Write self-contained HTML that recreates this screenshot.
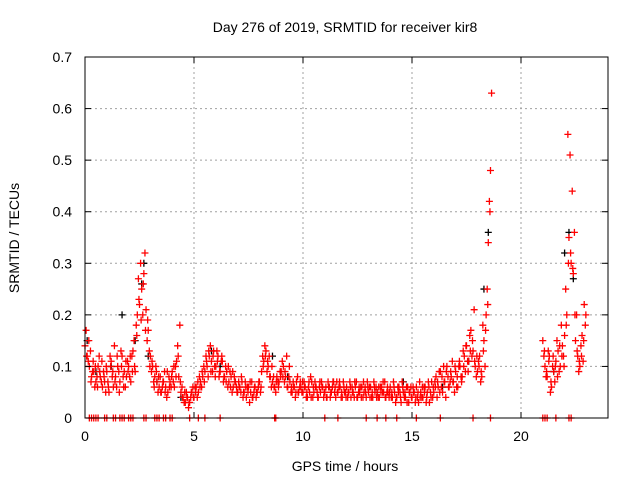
<!DOCTYPE html>
<html><head><meta charset="utf-8"><style>
body{margin:0;background:#fff}
svg text{font-family:"Liberation Sans",sans-serif;font-size:14px;fill:#000}
</style></head><body>
<svg id="c" width="640" height="480" viewBox="0 0 640 480" xmlns="http://www.w3.org/2000/svg">
<rect width="640" height="480" fill="#fff"/>
<text x="345" y="32" text-anchor="middle">Day 276 of 2019, SRMTID for receiver kir8</text>
<text x="345" y="471" text-anchor="middle">GPS time / hours</text>
<text transform="translate(19,238) rotate(-90)" text-anchor="middle">SRMTID / TECUs</text>
<g id="grid"></g><g id="marks"></g><g id="axes"></g>
</svg>
<script>
const xTicks=[0,5,10,15,20];
const yTicks=[0,0.1,0.2,0.3,0.4,0.5,0.6,0.7];
const yTickLabels=["0","0.1","0.2","0.3","0.4","0.5","0.6","0.7"];
const redA=[.14,.12,.10,.08,.09,.07,.10,.08,.06,.07,.09,.05,.11,.06,.08,.10,.07,.12,.09,.08,.10,.07,.13,.09,.20,.22,.25,.28,.21,.17,.12,.10,.08,.07,.06,.05,.07,.06,.05,.07,.09,.06,.11,.08,.05,.04,.03,.04,.03,.05,.04,.06,.05,.07,.08,.09,.10,.12,.11,.13,.10,.12,.09,.11,.08,.09,.07,.08,.06,.07,.05,.06,.07,.05,.04,.06,.05,.04,.06,.05,.07,.09,.11,.13,.10,.08,.07,.06,.08,.07,.09,.10,.08,.06,.07,.05,.06,.07,.05,.06,.05,.06,.04,.05,.07,.05,.06,.04,.05,.06,.05,.04,.06,.05,.07,.04,.05,.06,.04,.05,.06,.05,.04,.05,.06,.04,.05,.06,.05,.04,.05,.06,.04,.05,.05,.04,.06,.05,.04,.05,.06,.04,.05,.04,.06,.03,.05,.04,.06,.05,.04,.05,.06,.03,.05,.04,.06,.05,.03,.07,.05,.08,.06,.09,.05,.07,.10,.06,.08,.07,.09,.06,.10,.08,.12,.14,.11,.17,.13,.10,.09,.12,.08,.15,.20,.34,.48];
const redB=[.17,.11,.13,.09,.06,.08,.12,.07,.09,.05,.07,.12,.08,.14,.06,.09,.13,.08,.06,.11,.08,.12,.15,.18,.27,.30,.20,.32,.15,.13,.09,.07,.10,.05,.08,.06,.09,.04,.08,.06,.07,.10,.14,.18,.06,.03,.05,.02,.04,.06,.06,.04,.08,.06,.10,.12,.08,.14,.09,.10,.13,.08,.11,.07,.10,.06,.09,.05,.08,.06,.07,.05,.04,.07,.06,.03,.07,.05,.04,.06,.05,.12,.14,.09,.12,.06,.08,.05,.07,.09,.11,.07,.12,.08,.05,.07,.04,.08,.06,.05,.07,.04,.06,.08,.04,.07,.05,.06,.07,.04,.06,.07,.04,.06,.05,.07,.06,.04,.07,.05,.04,.07,.06,.04,.07,.05,.06,.04,.06,.07,.06,.04,.07,.06,.04,.06,.05,.07,.05,.04,.04,.07,.03,.06,.05,.07,.04,.06,.03,.06,.06,.03,.04,.07,.04,.06,.03,.07,.05,.04,.07,.04,.09,.06,.10,.04,.08,.07,.11,.05,.06,.10,.08,.13,.09,.11,.16,.12,.21,.08,.11,.07,.18,.10,.25,.42,.63];
const redC=[.12,.15,.07,.11,.10,.06,.09,.11,.08,.10,.06,.10,.09,.07,.12,.05,.10,.06,.11,.09,.12,.09,.10,.16,.23,.19,.26,.17,.19,.10,.11,.06,.09,.08,.05,.07,.05,.09,.06,.08,.10,.08,.12,.07,.04,.05,.04,.03,.05,.04,.05,.07,.06,.09,.07,.11,.13,.09,.12,.08,.11,.09,.12,.08,.07,.10,.06,.09,.07,.05,.06,.08,.05,.06,.05,.07,.04,.06,.05,.07,.06,.10,.12,.11,.08,.10,.06,.07,.06,.08,.08,.09,.06,.10,.06,.06,.05,.05,.07,.07,.06,.05,.07,.04,.06,.06,.04,.07,.06,.05,.04,.06,.05,.07,.06,.05,.07,.05,.06,.04,.05,.06,.05,.07,.04,.06,.04,.07,.05,.06,.04,.05,.06,.04,.06,.05,.07,.04,.06,.05,.05,.06,.04,.05,.04,.06,.05,.03,.05,.04,.05,.04,.05,.04,.06,.05,.04,.06,.04,.06,.06,.07,.05,.08,.07,.09,.06,.09,.07,.10,.08,.11,.07,.10,.14,.09,.13,.15,.11,.12,.10,.09,.13,.17,.22,.40];
const redLateA=[.15,.10,.08,.12,.06,.09,.11,.13,.10,.14,.16,.20,.35,.30,.28,.15,.12,.10,.16,.22];
const redLateB=[.12,.08,.13,.05,.10,.07,.15,.09,.18,.12,.25,.55,.51,.44,.36,.20,.09,.14,.11,.18];
const redLateC=[.13,.09,.11,.07,.12,.10,.08,.14,.12,.10,.18,.30,.32,.29,.20,.13,.11,.12,.15,.20];
const blackT=[0.1,0.5,1.2,1.7,2.3,2.6,2.7,2.9,3.3,4.4,5.8,6.2,8.6,9.3,11.2,13.4,14.6,16.4,17.6,18.3,18.5,21.5,22.0,22.2,22.4];
const blackV=[.15,.09,.10,.20,.15,.26,.30,.12,.07,.04,.13,.10,.12,.08,.06,.05,.07,.06,.11,.25,.36,.09,.32,.36,.27];
const zeroT=[0.2,0.3,0.4,0.5,0.6,0.9,1.0,1.3,1.4,1.6,1.7,1.8,2.0,2.1,2.2,2.7,2.8,3.2,3.3,3.4,3.6,3.7,3.9,4.0,4.8,5.2,5.5,6.2,8.7,8.75,11.0,11.6,12.9,13.4,13.8,14.3,15.2,16.3,17.8,18.6,21.0,21.1,21.2,21.6,22.2,22.3];
const X=t=>85+t*21.8, Y=v=>418-v*515.7;
const NS="http://www.w3.org/2000/svg";
function mk(tag,attrs,parent){const e=document.createElementNS(NS,tag);for(const k in attrs)e.setAttribute(k,attrs[k]);parent.appendChild(e);return e;}
const grid=document.getElementById('grid'),marks=document.getElementById('marks'),axes=document.getElementById('axes');
xTicks.forEach(t=>{
 if(t>0){const l=mk('line',{x1:X(t),x2:X(t),y1:57,y2:418,stroke:'#a0a0a0','stroke-dasharray':'2,3'},grid);
 
 }
 const tx=mk('text',{x:X(t),y:441,'text-anchor':'middle'},axes);tx.textContent=t;
 
 
 mk('line',{x1:X(t),x2:X(t),y1:418,y2:412,stroke:'#000'},axes);
 mk('line',{x1:X(t),x2:X(t),y1:57,y2:63,stroke:'#000'},axes);
});
yTicks.forEach((v,i)=>{
 if(i>0&&i<yTicks.length-1){const l=mk('line',{x1:85,x2:608,y1:Y(v),y2:Y(v),stroke:'#a0a0a0','stroke-dasharray':'2,3'},grid);
 
 }
 const tx=mk('text',{x:72,y:Y(v)+5,'text-anchor':'end'},axes);tx.textContent=yTickLabels[i];
 
 
 mk('line',{x1:85,x2:91,y1:Y(v),y2:Y(v),stroke:'#000'},axes);
 mk('line',{x1:608,x2:602,y1:Y(v),y2:Y(v),stroke:'#000'},axes);
});
const frame=mk('rect',{x:85,y:57,width:523,height:361,fill:'none',stroke:'#000'},axes);


function plus(t,v,col,name){const x=X(t),y=Y(v);
 const p=mk('path',{d:`M${x-3.5},${y}h7M${x},${y-3.5}v7`,stroke:col,'stroke-width':1.3},marks);
 
 }
blackT.forEach((t,i)=>plus(t,blackV[i],'#000','black-point'));
redA.forEach((v,i)=>plus(i*0.1,v,'#f00','red-point'));
redB.forEach((v,i)=>plus(i*0.1+0.05,v,'#f00','red-point'));
redC.forEach((v,i)=>plus(i*0.1+0.075,v,'#f00','red-point'));
redLateA.forEach((v,i)=>plus(21+i*0.1,v,'#f00','red-point'));
redLateB.forEach((v,i)=>plus(21.05+i*0.1,v,'#f00','red-point'));
redLateC.forEach((v,i)=>plus(21.075+i*0.1,v,'#f00','red-point'));
zeroT.forEach(t=>plus(t,0,'#f00','zero-point'));
</script>
</body></html>
